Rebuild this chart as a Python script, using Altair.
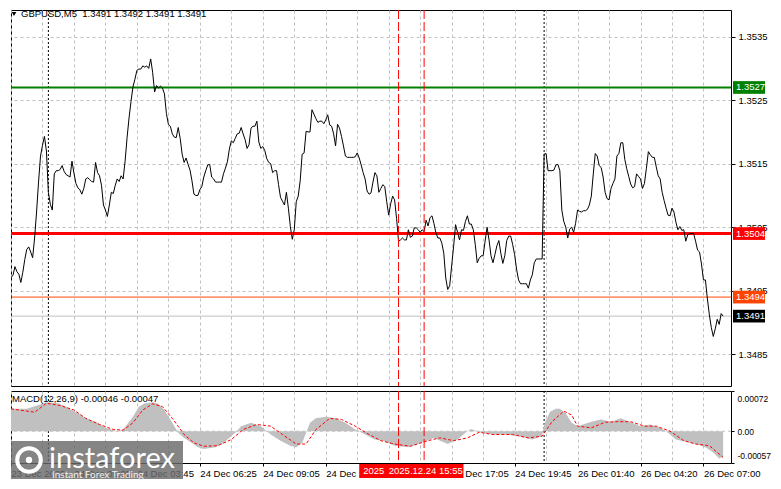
import altair as alt
import pandas as pd

# ---------------- data ----------------
closes = [
    1.34971, 1.34974, 1.34988, 1.34980, 1.34976, 1.34963, 1.34979, 1.34999, 1.35015, 1.35019,
    1.35011, 1.35002, 1.35033, 1.35074, 1.35121, 1.35162, 1.35179, 1.35193, 1.35170, 1.35105,
    1.35086, 1.35077, 1.35134, 1.35139, 1.35139, 1.35141, 1.35147, 1.35138, 1.35133, 1.35131,
    1.35129, 1.35154, 1.35135, 1.35119, 1.35112, 1.35109, 1.35102, 1.35111, 1.35126, 1.35128,
    1.35125, 1.35122, 1.35121, 1.35152, 1.35136, 1.35131, 1.35116, 1.35085, 1.35077, 1.35067,
    1.35085, 1.35105, 1.35103, 1.35116, 1.35126, 1.35122, 1.35131, 1.35126, 1.35154, 1.35191,
    1.35222, 1.35248, 1.35271, 1.35283, 1.35297, 1.35299, 1.35299, 1.35304, 1.35302, 1.35304,
    1.35300, 1.35315, 1.35294, 1.35263, 1.35273, 1.35269, 1.35272, 1.35269, 1.35260, 1.35229,
    1.35212, 1.35209, 1.35197, 1.35192, 1.35191, 1.35207, 1.35190, 1.35165, 1.35152, 1.35159,
    1.35149, 1.35140, 1.35123, 1.35102, 1.35100, 1.35100, 1.35109, 1.35114, 1.35129, 1.35139,
    1.35148, 1.35149, 1.35129, 1.35126, 1.35121, 1.35121, 1.35121, 1.35121, 1.35134, 1.35143,
    1.35153, 1.35173, 1.35186, 1.35183, 1.35190, 1.35197, 1.35198, 1.35207, 1.35197, 1.35188,
    1.35174, 1.35180, 1.35206, 1.35209, 1.35209, 1.35217, 1.35184, 1.35174, 1.35177, 1.35171,
    1.35158, 1.35152, 1.35150, 1.35136, 1.35139, 1.35139, 1.35117, 1.35097, 1.35091, 1.35085,
    1.35105, 1.35080, 1.35051, 1.35031, 1.35046, 1.35090, 1.35099, 1.35123, 1.35165, 1.35167,
    1.35201, 1.35200, 1.35200, 1.35235, 1.35228, 1.35221, 1.35215, 1.35217, 1.35217, 1.35213,
    1.35219, 1.35227, 1.35211, 1.35209, 1.35197, 1.35178, 1.35212, 1.35206, 1.35193, 1.35178,
    1.35162, 1.35160, 1.35160, 1.35160, 1.35160, 1.35161, 1.35167, 1.35159, 1.35148, 1.35136,
    1.35126, 1.35107, 1.35102, 1.35104, 1.35121, 1.35136, 1.35131, 1.35105, 1.35111, 1.35117,
    1.35114, 1.35090, 1.35069, 1.35087, 1.35099, 1.35093, 1.35064, 1.35028, 1.35030, 1.35033,
    1.35030, 1.35030, 1.35046, 1.35034, 1.35036, 1.35049, 1.35049, 1.35046, 1.35042, 1.35046,
    1.35043, 1.35061, 1.35052, 1.35065, 1.35068, 1.35056, 1.35041, 1.35033, 1.35033, 1.35025,
    1.35009, 1.34970, 1.34952, 1.34958, 1.34989, 1.35020, 1.35054, 1.35042, 1.35030, 1.35046,
    1.35045, 1.35059, 1.35068, 1.35055, 1.35055, 1.35046, 1.35023, 1.34994, 1.35001, 1.35005,
    1.35005, 1.35028, 1.35050, 1.35030, 1.35005, 1.34994, 1.35007, 1.35021, 1.35029, 1.35009,
    1.34993, 1.35005, 1.35029, 1.35036, 1.35036, 1.35023, 1.35007, 1.34984, 1.34967, 1.34961,
    1.34961, 1.34961, 1.34961, 1.34954, 1.34967, 1.34975, 1.34994, 1.35000, 1.35000, 1.35000,
    1.35000, 1.35165, 1.35166, 1.35139, 1.35139, 1.35139, 1.35140, 1.35148, 1.35149, 1.35139,
    1.35077, 1.35059, 1.35050, 1.35033, 1.35047, 1.35050, 1.35042, 1.35056, 1.35077, 1.35075,
    1.35074, 1.35076, 1.35076, 1.35078, 1.35085, 1.35099, 1.35134, 1.35166, 1.35162, 1.35147,
    1.35144, 1.35129, 1.35105, 1.35095, 1.35093, 1.35111, 1.35119, 1.35126, 1.35162, 1.35166,
    1.35183, 1.35183, 1.35157, 1.35142, 1.35130, 1.35118, 1.35112, 1.35114, 1.35134, 1.35130,
    1.35126, 1.35111, 1.35119, 1.35143, 1.35169, 1.35164, 1.35160, 1.35160, 1.35145, 1.35131,
    1.35126, 1.35105, 1.35092, 1.35080, 1.35069, 1.35068, 1.35080, 1.35074, 1.35058, 1.35046,
    1.35051, 1.35045, 1.35046, 1.35028, 1.35038, 1.35040, 1.35040, 1.35040, 1.35028, 1.35014,
    1.35011, 1.34992, 1.34967, 1.34967, 1.34937, 1.34912, 1.34892, 1.34878, 1.34890, 1.34905,
    1.34897, 1.34914, 1.34910,
]
bar_index = list(range(len(closes)))

macd_hist_bars = [0, 8, 14, 18, 24, 28, 34, 38, 44, 48, 54, 57, 62, 65, 68, 72, 75, 78, 82, 85,
                  88, 92, 95, 98, 104, 108, 114, 117, 122, 127, 132, 137, 142, 145, 148, 152, 155,
                  160, 165, 170, 175, 180, 185, 189, 195, 202, 208, 215, 222, 227, 232, 234, 238,
                  245, 252, 258, 265, 270, 271, 274, 277, 279, 282, 285, 288, 295, 300, 305, 310,
                  315, 320, 325, 330, 333, 338, 343, 348, 353, 357, 360, 362]
macd_hist_vals = [0.00040, 0.00040, 0.00047, 0.00052, 0.00050, 0.00044, 0.00032, 0.00023, 0.00015,
                  0.00006, 0.0, 0.00003, 0.00026, 0.00044, 0.00050, 0.00052, 0.00049, 0.00038,
                  0.00015, -0.00003, -0.00012, -0.00021, -0.00029, -0.00032, -0.00029, -0.00021,
                  -0.00003, 0.00009, 0.00015, 0.00009, -0.00006, -0.00017, -0.00026, -0.00029,
                  -0.00021, 0.00015, 0.00023, 0.00026, 0.00023, 0.00015, 0.00003, -0.00006,
                  -0.00015, -0.00017, -0.00026, -0.00029, -0.00021, -0.00012, -0.00023, -0.00015,
                  0.0, 0.00004, -0.00002, -0.00006, -0.00006, -0.00009, -0.00015, -0.00009,
                  0.00012, 0.00035, 0.00040, 0.00040, 0.00032, 0.00015, 0.00009, 0.00017, 0.00021,
                  0.00017, 0.00023, 0.00016, 0.00009, 0.00012, 0.00006, 0.0, -0.00015, -0.00019,
                  -0.00023, -0.00029, -0.00038, -0.00049, -0.00046]

signal_bars = [0, 12, 18, 25, 32, 38, 45, 52, 57, 62, 67, 72, 77, 82, 88, 93, 98, 105, 112, 118,
               125, 132, 138, 145, 150, 155, 162, 168, 175, 182, 188, 195, 203, 212, 218, 225, 232,
               238, 245, 255, 263, 270, 275, 281, 285, 288, 295, 302, 308, 315, 322, 328, 335, 342,
               348, 355, 362]
signal_vals = [0.00040, 0.00034, 0.00050, 0.00046, 0.00038, 0.00023, 0.00012, 0.00003, 0.00002,
               0.00015, 0.00038, 0.00049, 0.00044, 0.00023, -0.00006, -0.00021, -0.00027, -0.00026,
               -0.00015, 0.00003, 0.00012, 0.00009, -0.00006, -0.00023, -0.00023, 0.00003, 0.00023,
               0.00021, 0.00009, -0.00006, -0.00017, -0.00023, -0.00027, -0.00017, -0.00012,
               -0.00017, -0.00012, -0.00002, -0.00006, -0.00006, -0.00012, -0.00009, 0.00017,
               0.00036, 0.00029, 0.00009, 0.00006, 0.00016, 0.00017, 0.00017, 0.00009, 0.00009,
               0.0, -0.00017, -0.00023, -0.00026, -0.00047]

level_names = ["green", "red", "orange", "bid"]
level_prices = [1.3527, 1.3504, 1.3494, 1.3491]
level_texts = ["1.3527", "1.3504", "1.3494", "1.3491"]

price_ticks = [1.3485, 1.3495, 1.3505, 1.3515, 1.3525, 1.3535]
macd_ticks = [0.00072, 0.0, -0.00057]
macd_tick_labels = ["0.00072", "0.00", "-0.00057"]

# the 14:25 label sits entirely under the red marker boxes and is not visible
time_tick_labels = ["23 Dec 2025", "24 Dec 01:05", "24 Dec 03:45", "24 Dec 06:25",
                    "24 Dec 09:05", "24 Dec 11:45", "", "24 Dec 17:05",
                    "24 Dec 19:45", "26 Dec 01:40", "26 Dec 04:20", "26 Dec 07:00"]
bars_per_label = 32
bars_per_grid = 16

day_separator_bars = [19, 271]
marker_bars = [197, 210]
marker_texts = ["2025.12.24 14:50", "2025.12.24 15:55"]

title_text = "GBPUSD,M5\u00a0 1.3491 1.3492 1.3491 1.3491"
macd_text = "MACD(12,26,9) -0.00046 -0.00047"
logo_text = "instaforex"
logo_sub = "Instant Forex Trading"

# ---------------- styling ----------------
FONT = "Liberation Sans"
FS = 9.5
GRID = "#C0C0C0"
W = 720
H_MAIN = 376
H_MACD = 72

grid_bars = list(range(0, bars_per_label * len(time_tick_labels), bars_per_grid))

xs = alt.Scale(domain=[0, 366], nice=False, zero=False)
ys = alt.Scale(domain=[1.3480, 1.35392], nice=False, zero=False)
ms = alt.Scale(domain=[min(macd_ticks), max(macd_ticks)], nice=False, zero=False)

price_df = pd.DataFrame({"bar": bar_index, "close": closes})
levels_df = pd.DataFrame({"name": level_names, "price": level_prices, "text": level_texts})
day_df = pd.DataFrame({"bar": day_separator_bars})
marker_df = pd.DataFrame({"bar": marker_bars, "text": marker_texts})
hist_df = pd.DataFrame({"bar": macd_hist_bars, "macd": macd_hist_vals})
sig_df = pd.DataFrame({"bar": signal_bars, "signal": signal_vals})
one_df = pd.DataFrame({"v": [0.0]})

# ---------------- axes (identical object reused in every layer of a panel) ----------------
x_main_axis = alt.Axis(values=grid_bars, grid=True, gridColor=GRID, gridDash=[3, 3],
                       labels=False, ticks=False, domain=False, title=None)
y_main_axis = alt.Axis(orient="right", values=price_ticks, format=".4f", grid=True,
                       gridColor=GRID, gridDash=[3, 3], tickColor="black", tickSize=4,
                       labelPadding=3, labelFont=FONT, labelFontSize=FS, labelColor="black",
                       domain=False, title=None)

label_list = "[" + ",".join("'" + s + "'" for s in time_tick_labels) + "]"
x_label_expr = (f"datum.value % {bars_per_label} == 0 ? "
                f"{label_list}[datum.value / {bars_per_label}] : ''")
y_macd_expr = (f"datum.value > 0 ? '{macd_tick_labels[0]}' : "
               f"(datum.value < 0 ? '{macd_tick_labels[2]}' : '{macd_tick_labels[1]}')")

x_macd_axis = alt.Axis(values=grid_bars, grid=True, gridColor=GRID, gridDash=[3, 3],
                       labelExpr=x_label_expr, labelAlign="left", labelBaseline="top",
                       labelPadding=2, labelOverlap=False, labelFont=FONT, labelFontSize=FS,
                       labelColor="black", tickSize=3,
                       tickColor={"condition": {"test": f"datum.value % {bars_per_label} == 0",
                                                "value": "black"},
                                  "value": "rgba(0,0,0,0)"},
                       domain=False, title=None, labelBound=False, labelFlush=False)
y_macd_axis = alt.Axis(orient="right", values=macd_ticks, labelExpr=y_macd_expr, grid=False,
                       tickSize=3, tickColor="black", labelPadding=3, labelFont=FONT,
                       labelFontSize=8.5, labelColor="black", domain=False, title=None,
                       labelFlush=True, labelFlushOffset=-3)


def day_rules(xaxis):
    return alt.Chart(day_df).mark_rule(color="black", strokeDash=[2, 2], strokeWidth=1).encode(
        x=alt.X("bar:Q", scale=xs, axis=xaxis))


def marker_rules(xaxis):
    return alt.Chart(marker_df).mark_rule(color="#FF0000", strokeDash=[9, 3], strokeWidth=1).encode(
        x=alt.X("bar:Q", scale=xs, axis=xaxis))


# ---------------- main panel ----------------
def level_rule(name, color, width):
    return alt.Chart(levels_df).transform_filter(alt.datum.name == name).mark_rule(
        color=color, strokeWidth=width).encode(y=alt.Y("price:Q", scale=ys, axis=y_main_axis))


def level_tag(name, color):
    base = alt.Chart(levels_df).transform_filter(alt.datum.name == name).transform_calculate(
        hi="datum.price + 0.0001", lo="datum.price - 0.0001")
    box = base.mark_rect(color=color).encode(
        x=alt.value(W + 2), x2=alt.value(W + 34),
        y=alt.Y("hi:Q", scale=ys, axis=y_main_axis), y2="lo:Q")
    txt = base.mark_text(color="white", align="left", baseline="middle", font=FONT,
                         fontSize=FS).encode(
        x=alt.value(W + 5), y=alt.Y("price:Q", scale=ys, axis=y_main_axis), text="text:N")
    return box + txt


price_line = alt.Chart(price_df).mark_line(color="black", strokeWidth=1, clip=True).encode(
    x=alt.X("bar:Q", scale=xs, axis=x_main_axis),
    y=alt.Y("close:Q", scale=ys, axis=y_main_axis))

title_mark = alt.Chart(one_df).mark_text(align="left", baseline="middle", font=FONT,
                                         fontSize=FS, color="black").encode(
    x=alt.value(10), y=alt.value(4), text=alt.value(title_text))
title_tri = alt.Chart(one_df).mark_point(shape="triangle-down", filled=True, color="black",
                                         size=22, opacity=1).encode(
    x=alt.value(3), y=alt.value(4))

main = alt.layer(
    price_line.mark_line(opacity=0),
    day_rules(x_main_axis),
    level_rule("green", "#008000", 2),
    level_rule("red", "#FF0000", 3),
    level_rule("orange", "#FF4500", 1),
    level_rule("bid", "#C0C0C0", 1),
    price_line,
    marker_rules(x_main_axis),
    level_tag("green", "#008000"),
    level_tag("red", "#FF0000"),
    level_tag("orange", "#FF4500"),
    level_tag("bid", "#000000"),
    title_tri,
    title_mark,
).properties(width=W, height=H_MAIN)

# ---------------- MACD panel ----------------
zero_rule = alt.Chart(one_df).mark_rule(color=GRID, strokeDash=[3, 3]).encode(
    y=alt.Y("v:Q", scale=ms, axis=y_macd_axis))
hist = alt.Chart(hist_df).mark_area(color="#C0C0C0", opacity=1).encode(
    x=alt.X("bar:Q", scale=xs, axis=x_macd_axis),
    y=alt.Y("macd:Q", scale=ms, axis=y_macd_axis),
    y2=alt.datum(0))
signal = alt.Chart(sig_df).mark_line(color="#FF0000", strokeDash=[3, 2], strokeWidth=1).encode(
    x=alt.X("bar:Q", scale=xs, axis=x_macd_axis), y=alt.Y("signal:Q", scale=ms, axis=y_macd_axis))
macd_label = alt.Chart(one_df).mark_text(align="left", baseline="middle", font=FONT,
                                         fontSize=FS, color="black").encode(
    x=alt.value(1), y=alt.value(8), text=alt.value(macd_text))


def marker_box(i, limit):
    base = alt.Chart(marker_df).transform_filter(alt.datum.text == marker_texts[i]).transform_calculate(
        left="datum.bar - 20", right="datum.bar + 20")
    box = base.mark_rect(color="#FF0000").encode(
        x=alt.X("left:Q", scale=xs, axis=x_macd_axis), x2="right:Q",
        y=alt.value(H_MACD + 1), y2=alt.value(H_MACD + 15))
    txt = base.mark_text(color="white", align="left", baseline="middle", font=FONT,
                         fontSize=FS, dx=4, limit=limit, ellipsis=".").encode(
        x=alt.X("left:Q", scale=xs, axis=x_macd_axis), y=alt.value(H_MACD + 8), text="text:N")
    return box + txt


logo_box = alt.Chart(one_df).mark_rect(color="#6a6a6a", opacity=0.82).encode(
    x=alt.value(0), x2=alt.value(172), y=alt.value(50), y2=alt.value(H_MACD + 16))
logo_ring = alt.Chart(one_df).mark_point(shape="circle", filled=False, color="white",
                                         strokeWidth=4, size=560, opacity=1).encode(
    x=alt.value(18), y=alt.value(69))
logo_dot = alt.Chart(one_df).mark_point(shape="circle", filled=True, color="white",
                                        size=40, opacity=1).encode(
    x=alt.value(18), y=alt.value(69))
logo_main = alt.Chart(one_df).mark_text(align="left", baseline="alphabetic", font="Lato",
                                        fontSize=29, color="white").encode(
    x=alt.value(38), y=alt.value(77), text=alt.value(logo_text))
logo_small = alt.Chart(one_df).mark_text(align="left", baseline="alphabetic", font="Lato",
                                         fontSize=10, color="#f0f0f0").encode(
    x=alt.value(41), y=alt.value(87), text=alt.value(logo_sub))

macd = alt.layer(
    hist.mark_area(opacity=0),
    zero_rule,
    day_rules(x_macd_axis),
    hist,
    signal,
    marker_rules(x_macd_axis),
    macd_label,
    marker_box(0, 24),
    marker_box(1, 200),
    logo_box,
    logo_ring,
    logo_dot,
    logo_main,
    logo_small,
).properties(width=W, height=H_MACD)

chart = alt.vconcat(main, macd, spacing=3, padding=0).configure_view(
    stroke="black", strokeWidth=1)

chart.save("out.html", embed_options={"renderer": "svg", "actions": False})
